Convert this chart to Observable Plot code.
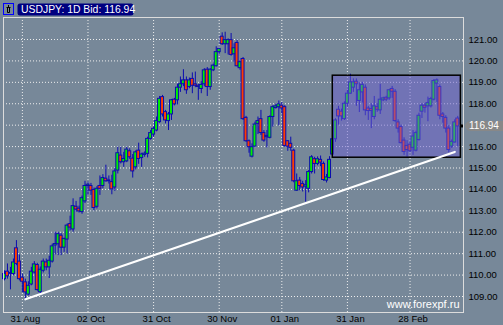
<!DOCTYPE html>
<html><head><meta charset="utf-8">
<script src="https://cdn.jsdelivr.net/npm/d3@7"></script>
<script src="https://cdn.jsdelivr.net/npm/@observablehq/plot@0.6"></script>
<style>
html,body{margin:0;padding:0;background:#778899;}
svg{display:block}
</style></head><body><div id="chart"></div><script>
// Daily USDJPY candles (bid)
const open = [109.81,110.16,110.10,110.05,111.25,110.63,109.88,109.66,109.09,109.56,110.12,110.47,109.20,110.20,110.59,110.36,110.63,111.38,111.44,111.84,111.28,111.66,112.38,112.13,113.19,113.10,112.94,113.44,114.16,114.16,113.97,113.19,114.16,114.16,114.50,114.38,114.34,114.09,114.88,115.58,115.27,115.31,115.78,115.44,115.03,115.81,115.47,115.61,115.66,116.36,116.56,116.75,117.14,118.31,117.61,117.19,117.50,118.19,118.16,118.75,118.91,119.09,118.78,119.16,118.91,118.84,118.69,118.91,119.59,118.78,119.56,119.75,120.41,121.13,120.78,120.78,120.97,120.31,120.84,119.66,120.09,117.34,116.25,115.53,116.00,117.06,117.28,116.63,116.50,116.41,117.38,117.80,117.84,117.91,117.84,116.25,116.13,115.81,113.94,114.41,114.25,114.13,114.03,114.81,115.41,115.19,115.38,115.19,114.41,114.53,115.63,116.34,117.72,117.63,117.28,118.00,118.47,118.75,119.03,118.13,118.53,118.75,117.78,117.75,117.38,117.84,117.69,118.16,118.28,118.25,118.69,118.56,117.13,116.91,116.28,116.03,116.09,115.94,115.81,116.31,117.63,117.91,117.88,117.88,118.19,118.94,118.78,117.50,117.34,116.84,116.00,116.19,117.31];
const high = [110.20,110.52,110.36,110.75,111.61,110.94,110.05,109.81,109.69,110.36,110.63,110.55,110.38,110.75,110.75,110.88,111.44,112.00,112.00,111.94,111.72,112.38,112.75,113.56,113.44,113.22,113.69,114.38,114.34,114.28,114.06,114.13,114.63,114.69,115.13,114.63,114.66,114.97,115.97,115.97,115.73,115.97,115.90,115.63,115.80,116.16,115.69,115.75,116.44,116.75,116.91,117.38,118.34,118.39,117.69,117.59,118.20,118.25,118.91,119.25,119.59,119.25,119.20,119.44,119.48,118.90,119.03,119.64,119.69,119.64,119.85,120.66,120.60,121.31,121.34,121.03,121.28,120.80,120.97,120.00,120.16,117.41,116.31,116.13,117.14,117.38,117.69,116.75,116.75,117.44,117.91,117.97,118.13,118.06,117.91,116.28,116.44,115.88,114.72,114.56,114.38,114.41,114.88,115.58,115.50,115.52,115.56,115.28,114.70,115.53,116.44,117.30,117.88,117.75,118.09,118.63,119.38,119.16,119.16,118.97,119.00,118.88,117.88,118.00,118.34,118.00,118.91,118.30,118.35,118.66,118.81,118.66,117.25,117.00,116.41,116.28,116.19,116.75,116.72,117.56,118.00,118.00,118.31,118.30,119.13,119.16,118.88,117.59,117.44,116.97,116.31,117.25,117.41];
const low = [109.73,109.81,109.31,109.97,110.44,109.73,109.19,108.83,109.03,109.50,110.05,109.25,109.06,110.10,110.20,109.84,110.56,110.94,110.91,110.91,111.06,110.98,112.06,112.00,112.94,112.90,112.84,113.34,113.72,113.72,113.00,113.09,113.72,114.03,114.34,114.25,113.75,113.91,114.72,115.19,115.03,115.25,115.40,114.53,114.91,115.17,115.03,115.50,115.47,116.30,116.44,116.69,117.09,117.38,117.06,116.75,117.22,117.90,117.94,118.53,118.80,118.44,118.70,118.47,118.75,118.16,118.47,118.80,118.34,118.63,119.50,119.72,120.30,120.72,120.34,120.28,120.22,119.94,119.72,119.56,117.22,116.20,115.69,115.47,115.97,116.56,116.52,116.20,115.94,116.36,116.91,117.75,116.97,117.53,115.97,115.78,115.78,114.31,113.91,113.94,113.88,113.41,113.84,114.72,114.72,115.10,115.06,114.38,114.30,114.50,115.47,116.20,117.00,117.19,117.22,117.84,118.44,118.53,117.88,117.59,118.03,117.44,117.22,116.84,117.25,117.60,117.50,118.10,118.10,118.16,118.25,117.13,116.63,116.13,115.59,115.50,115.72,115.59,115.75,116.25,117.31,117.56,117.16,117.80,118.13,118.06,117.25,117.09,116.63,115.72,115.91,116.16,116.00];
const close = [110.05,109.94,110.06,110.59,110.52,109.81,109.69,109.19,109.50,110.16,110.50,109.30,110.25,110.63,110.36,110.67,111.34,111.45,111.91,111.28,111.69,112.31,112.22,113.22,113.06,112.97,113.59,114.16,114.22,113.94,113.13,114.03,114.03,114.53,114.38,114.42,114.00,114.84,115.69,115.27,115.42,115.86,115.50,114.84,115.73,115.42,115.63,115.67,116.36,116.63,116.83,117.19,118.23,117.50,117.22,117.50,118.16,117.97,118.75,118.91,119.09,118.63,119.09,118.84,118.84,118.78,118.88,119.56,118.78,119.59,119.78,120.41,120.56,120.78,120.97,120.97,120.28,120.59,119.75,119.94,117.28,116.25,115.97,115.97,117.03,117.19,116.63,116.28,116.44,117.38,117.84,117.88,117.97,117.78,116.03,116.00,115.94,114.38,114.38,114.16,114.09,114.20,114.81,115.50,115.19,115.41,115.25,114.44,114.56,115.38,116.34,117.22,117.41,117.41,118.00,118.47,119.00,119.00,118.91,118.63,118.88,117.69,117.66,117.66,117.88,117.72,118.19,118.25,118.19,118.63,118.56,117.19,116.84,116.16,115.75,115.84,115.78,116.47,116.63,117.44,117.91,117.81,118.03,118.22,119.06,119.09,117.44,117.38,116.84,115.84,116.22,117.13,116.94];

const dateLabels = ["31 Aug","02 Oct","31 Oct","30 Nov","01 Jan","31 Jan","28 Feb"];
const dateTickBars = [6,28,50,72,93,115,136];
const gridPrices = [109,110,111,112,113,114,115,116,117,118,119,120,121];
const priceLabels = [109,110,111,112,113,114,115,116,118,119,120,121];
const lastPrice = 116.94;
const titleText = "USDJPY: 1D Bid: 116.94";
const watermark = "www.forexpf.ru";
const trendBars = [7,151];
const trendPrices = [108.87,115.75];
const boxBars = [110.1,153.05];
const boxPrices = [115.48,119.31];

const bars = close.map((c,i)=>({i, o:open[i], h:high[i], l:low[i], c}));
const trend = trendBars.map((b,k)=>({i:b, p:trendPrices[k]}));
const box = [{x1:boxBars[0], x2:boxBars[1], y1:boxPrices[0], y2:boxPrices[1]}];

const navy = "#0c0cb0";
const plot = Plot.plot({
  width:503, height:325,
  marginLeft:3, marginRight:40, marginTop:17, marginBottom:13,
  style:{background:"#778899", fontFamily:"'Liberation Sans', Arial, sans-serif", fontSize:"9.5px", color:"#000", overflow:"visible"},
  x:{type:"linear", domain:[-0.335,153.93]},
  y:{domain:[108.253,122.027]},
  marks:[
    Plot.gridX(dateTickBars,{stroke:"#eeeeee", strokeOpacity:1, strokeDasharray:"1,2"}),
    Plot.gridY(gridPrices,{stroke:"#eeeeee", strokeOpacity:1, strokeDasharray:"1,2"}),
    Plot.ruleX(bars,{x:"i", y1:"l", y2:"h", stroke:navy, strokeWidth:1}),
    Plot.rect(bars,{x1:d=>d.i-0.5, x2:d=>d.i+0.5, y1:"o", y2:"c", fill:d=>d.c>=d.o?"#00f000":"#ff3c00", stroke:navy, strokeWidth:1}),
    Plot.rect(box,{x1:"x1", x2:"x2", y1:"y1", y2:"y2", fill:"#6c5ed2", fillOpacity:0.5}),
    Plot.rect(box,{x1:"x1", x2:"x2", y1:"y1", y2:"y2", fill:"none", stroke:"#000", strokeWidth:1.5}),
    Plot.line(trend,{x:"i", y:"p", stroke:"#ffffff", strokeWidth:2.2}),
    Plot.frame({stroke:"#dcdcdc"}),
    Plot.axisY(priceLabels,{anchor:"right", tickSize:0, tickPadding:5, tickFormat:d=>d.toFixed(2), fill:"#000", fontSize:9.5}),
    Plot.axisX(dateTickBars,{anchor:"bottom", tickSize:0, tickPadding:3, dx:3, tickFormat:d=>dateLabels[dateTickBars.indexOf(d)], fill:"#000", fontSize:9.5}),
    Plot.text([watermark],{text:d=>d, frameAnchor:"bottom-right", dx:-4, dy:-5, fill:"#ffffff", fontSize:11})
  ]
});
document.getElementById("chart").appendChild(plot);

// current price tag, marker and title badge
const svg = d3.select(plot);
const yc = plot.scale("y").apply(lastPrice);
const xr = plot.scale("x").apply(153.93);
svg.append("rect").attr("x", xr-3).attr("y", yc-1.5).attr("width",3).attr("height",3).attr("fill","#000");
svg.append("path")
  .attr("d", `M${xr+2},${yc} Q${xr+3},${yc-5} ${xr+8},${yc-5} H503 V${yc+5} H${xr+8} Q${xr+3},${yc+5} ${xr+2},${yc} Z`)
  .attr("fill","#888888");
svg.append("text").attr("x", xr+6).attr("y", yc+3.5).attr("fill","#fff").attr("text-anchor","start")
  .attr("font-family","'Liberation Sans', Arial, sans-serif").attr("font-size",10).text(lastPrice.toFixed(2));

svg.append("rect").attr("x",3.5).attr("y",3.5).attr("width",10).attr("height",11).attr("fill","none").attr("stroke","#0000ff");
svg.append("path").attr("d","M6.5,7.5 h4 M7.5,7.5 v5 h2 v-5 M8.5,5 v2").attr("stroke","#000").attr("fill","none");
svg.append("rect").attr("x",17.5).attr("y",3.5).attr("width",116).attr("height",12).attr("rx",2.5).attr("fill","#000080");
svg.append("text").attr("x",21).attr("y",13.2).attr("fill","#fff").attr("text-anchor","start")
  .attr("font-family","'Liberation Sans', Arial, sans-serif").attr("font-size",10.4).text(titleText);
</script></body></html>
